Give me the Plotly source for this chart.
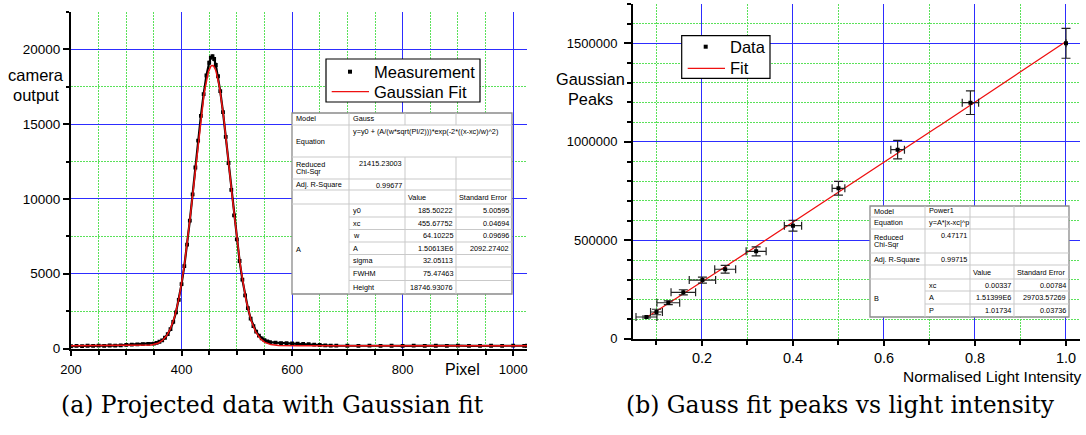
import numpy as np
import plotly.graph_objects as go

W, H = 1086, 435
SANS = "Arial, 'Liberation Sans', Helvetica, sans-serif"
SERIF = "'DejaVu Serif', 'Liberation Serif', serif"

# ---------------- (a) projected camera output along the pixel axis ----------------
pixel = [200, 210, 220, 230, 240, 250, 260, 270, 280, 290, 300, 310, 320, 330, 340,
         350, 355, 360, 365, 370, 375, 380, 385, 390, 395, 400, 405, 410, 415, 420,
         425, 430, 435, 440, 445, 450, 453, 456, 459, 462, 466,
         470, 475, 480, 485, 490, 495, 500, 505, 510, 515, 520, 525, 530, 535, 540,
         545, 550, 555, 560, 570, 580, 590, 600, 610, 620, 630, 640, 650, 660, 670,
         680, 700, 720, 740, 760, 780, 800, 820, 840, 860, 880, 900, 920, 940, 960,
         980, 1000, 1020, 1025]
camera_output = [150, 175, 160, 185, 170, 190, 180, 200, 195, 215, 240, 260, 275, 290, 310,
                 330, 380, 450, 540, 720, 960, 1290, 1780, 2420, 3250, 4300, 5500, 6950, 8550, 10300,
                 12100, 13900, 15550, 17000, 18250, 19100, 19450, 19550, 19350, 18950, 18200,
                 17200, 15800, 14150, 12400, 10600, 8900, 7300, 5850, 4600, 3550, 2700, 2000, 1500, 1130, 860,
                 680, 560, 480, 430, 390, 365, 350, 335, 320, 305, 290, 265, 235, 210, 195,
                 190, 185, 180, 190, 175, 185, 180, 190, 175, 185, 180, 190, 180, 175, 185,
                 180, 190, 180, 185]

# Gauss fit result
gauss_y0 = 185.50222
gauss_xc = 455.67752
gauss_w = 64.10225
gauss_A = 1.50613e6

gauss_stats = [("Model", "Gauss"),
               ("Equation", "y=y0 + (A/(w*sqrt(PI/2)))*exp(-2*((x-xc)/w)^2)"),
               ("Reduced<br>Chi-Sqr", "21415.23003"),
               ("Adj. R-Square", "0.99677")]
gauss_names = ["y0", "xc", "w", "A", "sigma", "FWHM", "Height"]
gauss_values = ["185.50222", "455.67752", "64.10225", "1.50613E6", "32.05113", "75.47463", "18746.93076"]
gauss_errors = ["5.00595", "0.04694", "0.09696", "2092.27402", "", "", ""]

# ---------------- (b) fitted peak heights vs normalised intensity ----------------
intensity = [0.078, 0.100, 0.126, 0.159, 0.201, 0.251, 0.319, 0.400, 0.500, 0.630, 0.790, 1.000]
intensity_err = [0.023, 0.013, 0.025, 0.027, 0.029, 0.023, 0.022, 0.019, 0.014, 0.015, 0.018, 0.0]
peaks = [110700, 136000, 183000, 236000, 298000, 353000, 444000, 574000, 764000, 960000, 1198500, 1500000]
peaks_err = [5000, 14000, 10000, 13000, 15000, 20000, 23000, 27000, 35000, 47000, 60000, 76000]

# Power fit result
power_A = 1.51399e6
power_xc = 0.00337
power_p = 1.01734

power_stats = [("Model", "Power1"),
               ("Equation", "y=A*|x-xc|^p"),
               ("Reduced<br>Chi-Sqr", "0.47171"),
               ("Adj. R-Square", "0.99715")]
power_names = ["xc", "A", "P"]
power_values = ["0.00337", "1.51399E6", "1.01734"]
power_errors = ["0.00784", "29703.57269", "0.03736"]

table_header = ["Value", "Standard Error"]


def X(px):
    return px / W


def Y(py):
    return 1 - py / H


shapes = []
notes = []


def note(text, x, y, size, xanchor="left", family=SANS, color="black"):
    notes.append(dict(text=text, x=X(x), y=Y(y), xref="paper", yref="paper",
                      xanchor=xanchor, yanchor="middle", showarrow=False,
                      font=dict(family=family, size=size, color=color), borderpad=0))


def hline(x0, x1, y, color, width=1):
    shapes.append(dict(type="line", xref="paper", yref="paper", x0=X(x0), x1=X(x1),
                       y0=Y(y), y1=Y(y), line=dict(color=color, width=width)))


def vline(x, y0, y1, color, width=1):
    shapes.append(dict(type="line", xref="paper", yref="paper", x0=X(x), x1=X(x),
                       y0=Y(y0), y1=Y(y1), line=dict(color=color, width=width)))


def draw_table(cols, rows, stats, group, names, values, errors, merge_eq):
    fs = 7.3
    inner = "#c9c9c9"
    shapes.append(dict(type="rect", xref="paper", yref="paper", x0=X(cols[0]), x1=X(cols[4]),
                       y0=Y(rows[-1]), y1=Y(rows[0]), fillcolor="white",
                       line=dict(color="#8a8a8a", width=1.3)))
    # column separators
    vline(cols[1], rows[0], rows[-1], inner)
    for c in (cols[2], cols[3]):
        if merge_eq:
            vline(c, rows[0], rows[1], inner)
            vline(c, rows[2], rows[-1], inner)
        else:
            vline(c, rows[0], rows[-1], inner)
    # row separators
    for r in rows[1:6]:
        hline(cols[0], cols[4], r, inner)
    for r in rows[6:-1]:
        hline(cols[1], cols[4], r, inner)
    # statistics rows
    for i, (label, val) in enumerate(stats):
        top, bot = rows[i], rows[i + 1]
        mid = (top + bot) / 2
        lines = label.split("<br>")
        for k, ln in enumerate(lines):
            note(ln, cols[0] + 3, mid + (k - (len(lines) - 1) / 2) * 7.7, fs)
        if i == 0:
            note(val, cols[1] + 3, mid - 1, fs)
        elif i == 1:
            note(val, cols[1] + 3, top + 6, fs)
        else:
            note(val, cols[2] - 2, top + 6, fs, xanchor="right")
    # header
    hmid = (rows[4] + rows[5]) / 2
    note(table_header[0], cols[2] + 2, hmid, fs)
    note(table_header[1], cols[3] + 2, hmid, fs)
    # parameters
    note(group, cols[0] + 3, (rows[5] + rows[-1]) / 2, fs)
    for j, (n, v, e) in enumerate(zip(names, values, errors)):
        mid = (rows[5 + j] + rows[6 + j]) / 2
        note(n, cols[1] + 3, mid, fs)
        note(v, cols[3] - 2, mid, fs, xanchor="right")
        if e:
            note(e, cols[4] - 2, mid, fs, xanchor="right")


fig = go.Figure()

# panel (a)
fig.add_trace(go.Scatter(x=pixel, y=camera_output, mode="lines+markers",
                         line=dict(color="black", width=2.2),
                         marker=dict(symbol="square", size=3.8, color="black"),
                         xaxis="x", yaxis="y", showlegend=False))
gx = np.linspace(200, 1025, 800)
gy = gauss_y0 + gauss_A / (gauss_w * np.sqrt(np.pi / 2)) * np.exp(-2 * ((gx - gauss_xc) / gauss_w) ** 2)
fig.add_trace(go.Scatter(x=gx, y=gy, mode="lines", line=dict(color="#ee1111", width=1.5),
                         xaxis="x", yaxis="y", showlegend=False))

# panel (b)
px_ = np.linspace(min(intensity), max(intensity), 200)
py_ = power_A * np.abs(px_ - power_xc) ** power_p
fig.add_trace(go.Scatter(x=px_, y=py_, mode="lines", line=dict(color="#ee1111", width=1.3),
                         xaxis="x2", yaxis="y2", showlegend=False))
fig.add_trace(go.Scatter(x=intensity, y=peaks, mode="markers",
                         marker=dict(symbol="square", size=4, color="black"),
                         error_x=dict(type="data", array=intensity_err, color="#222222", thickness=1.2, width=4),
                         error_y=dict(type="data", array=peaks_err, color="#222222", thickness=1.2, width=4.5),
                         xaxis="x2", yaxis="y2", showlegend=False))

BLUE = "rgb(45,45,255)"
GREEN = "rgb(90,225,90)"
axis_common = dict(showline=True, linecolor="black", linewidth=2, ticks="outside",
                   tickcolor="black", tickwidth=1.5, showgrid=True, gridcolor=BLUE, gridwidth=1,
                   zeroline=False, mirror=False, fixedrange=True, automargin=False)

fig.update_layout(
    width=W, height=H, autosize=False,
    margin=dict(l=0, r=0, t=0, b=0, pad=0, autoexpand=False),
    paper_bgcolor="white", plot_bgcolor="white",
    xaxis=dict(domain=[X(71), X(527)], range=[200, 1025], anchor="y",
               tick0=200, dtick=200, ticklen=5, ticklabelstandoff=3,
               tickfont=dict(family=SANS, size=13, color="black"),
               minor=dict(tick0=200, dtick=50, ticks="outside", ticklen=4, tickcolor="black",
                          showgrid=True, gridcolor=GREEN, griddash="2px,1px", gridwidth=1),
               **axis_common),
    yaxis=dict(domain=[Y(348.5), Y(11.9)], range=[0, 22500], anchor="x",
               tick0=0, dtick=5000, ticklen=6, tickformat="d",
               tickfont=dict(family=SANS, size=13.5, color="black"),
               minor=dict(tick0=0, dtick=2500, ticks="outside", ticklen=3, tickcolor="black",
                          showgrid=True, gridcolor=GREEN, griddash="2px,1px", gridwidth=1),
               **axis_common),
    xaxis2=dict(domain=[X(633), X(1080)], range=[0.0484, 1.0308], anchor="y2",
                tick0=0, dtick=0.2, ticklen=5, tickformat=".1f", ticklabelstandoff=0,
                tickfont=dict(family=SANS, size=14.5, color="black"),
                minor=dict(tick0=0, dtick=0.1, ticks="outside", ticklen=4, tickcolor="black",
                           showgrid=True, gridcolor=GREEN, griddash="2px,1px", gridwidth=1),
                **axis_common),
    yaxis2=dict(domain=[Y(338.8), Y(3.9)], range=[0, 1.7e6], anchor="x2",
                tick0=0, dtick=500000, ticklen=7, tickformat="d", ticklabelstandoff=4,
                tickfont=dict(family=SANS, size=13, color="black"),
                minor=dict(tick0=0, dtick=100000, ticks="outside", ticklen=4, tickcolor="black",
                           showgrid=True, gridcolor=GREEN, griddash="2px,1px", gridwidth=1),
                **axis_common),
)

# fit tables
draw_table([292, 349, 405, 456, 512],
           [113, 125, 157, 179, 190, 204, 217, 229.5, 242, 254.5, 267, 280.5, 294],
           gauss_stats, "A", gauss_names, gauss_values, gauss_errors, merge_eq=True)
draw_table([870, 925, 970, 1014, 1069],
           [206, 217, 229, 253, 265, 279, 291, 304, 317],
           power_stats, "B", power_names, power_values, power_errors, merge_eq=False)

# legend boxes
shapes.append(dict(type="rect", xref="paper", yref="paper", x0=X(326), x1=X(480), y0=Y(102), y1=Y(59),
                   fillcolor="white", line=dict(color="black", width=1.2)))
shapes.append(dict(type="rect", xref="paper", yref="paper", x0=X(348), x1=X(352), y0=Y(73.7), y1=Y(69.7),
                   fillcolor="black", line=dict(width=0)))
hline(331.7, 369, 91.7, "#ee1111", 1.3)
note("Measurement", 373, 71.7, 16.5)
note("Gaussian Fit", 373, 91.7, 16.5)

shapes.append(dict(type="rect", xref="paper", yref="paper", x0=X(681.7), x1=X(770), y0=Y(78.3), y1=Y(35.7),
                   fillcolor="white", line=dict(color="black", width=1.2)))
shapes.append(dict(type="rect", xref="paper", yref="paper", x0=X(703.7), x1=X(707.7), y0=Y(48.7), y1=Y(44.7),
                   fillcolor="black", line=dict(width=0)))
hline(687.7, 725, 68.3, "#ee1111", 1.3)
note("Data", 729, 46.7, 16.5)
note("Fit", 729, 68.3, 16.5)

# axis titles
note("camera", 35.5, 75, 16.5, xanchor="center")
note("output", 35.5, 95, 16.5, xanchor="center")
note("Pixel", 462, 369, 16, xanchor="center")
note("Gaussian", 590.5, 79, 16.3, xanchor="center")
note("Peaks", 590.5, 99, 16.3, xanchor="center")
note("Normalised Light Intensity", 1083, 376, 15.5, xanchor="right")

# captions
note("(a) Projected data with Gaussian fit", 272, 405, 23.5, xanchor="center", family=SERIF)
note("(b) Gauss fit peaks vs light intensity", 840, 405, 23.5, xanchor="center", family=SERIF)

fig.update_layout(shapes=shapes, annotations=notes)
fig.write_html("out.html")
